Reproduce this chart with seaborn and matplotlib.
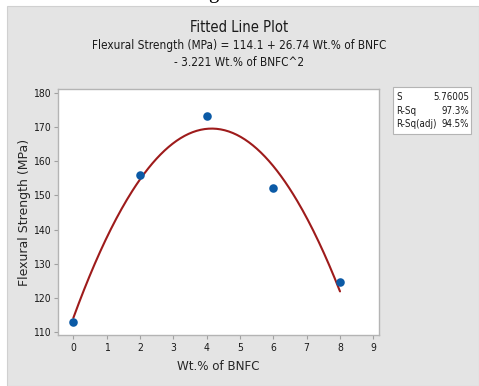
import numpy as np
import pandas as pd
import matplotlib
matplotlib.use("Agg")
import matplotlib.pyplot as plt
from matplotlib.patches import Rectangle
import seaborn as sns

# Observed flexural strength at each BNFC loading
wt_pct = [0, 2, 4, 6, 8]
strength = [112.8, 156.1, 173.3, 152.2, 124.5]

# Quadratic regression coefficients and summary statistics
coef_b0, coef_b1, coef_b2 = 114.1, 26.74, -3.221
stat_names = ["S", "R-Sq", "R-Sq(adj)"]
stat_values = ["5.76005", "97.3%", "94.5%"]

x_ticks = list(range(0, 10))
y_ticks = list(range(110, 181, 10))

sns.set_theme(style="white")
plt.rcParams["font.family"] = ["DejaVu Sans"]
plt.rcParams["font.stretch"] = "condensed"
plt.rcParams["text.color"] = "#1a1a1a"

fig = plt.figure(figsize=(4.79, 3.86), dpi=100)
fig.patch.set_facecolor("white")
fig.patches.append(Rectangle((7 / 479, 0), 1 - 7 / 479, 1 - 6 / 386,
                             transform=fig.transFigure, facecolor="#e4e4e4",
                             edgecolor="#d0d0d0", linewidth=0.8, zorder=-10))
# Fragment of the caption above the panel
fig.text(213 / 479, 1 + 2 / 386, "g", fontsize=15, family="Liberation Serif",
         ha="center", va="baseline", color="black")

ax = fig.add_axes([58 / 479, 51 / 386, 321 / 479, 246 / 386])
ax.set_facecolor("white")

fit_df = pd.DataFrame({"x": np.linspace(0, 8, 200)})
fit_df["y"] = coef_b0 + coef_b1 * fit_df["x"] + coef_b2 * fit_df["x"] ** 2
sns.lineplot(data=fit_df, x="x", y="y", ax=ax, color="#9e1b1b", linewidth=1.5)

pts = pd.DataFrame({"x": wt_pct, "y": strength})
sns.scatterplot(data=pts, x="x", y="y", ax=ax, color="#0b5aa6", s=38,
                edgecolor="#0b5aa6", linewidth=0, zorder=3)

ax.set_xlim(-0.46, 9.17)
ax.set_ylim(109.1, 181.2)
ax.set_xticks(x_ticks)
ax.set_yticks(y_ticks)
ax.tick_params(axis="both", which="major", length=3, width=0.8, color="#a0a0a0",
               labelsize=7.5, pad=2.5, direction="out", bottom=True, left=True,
               labelcolor="#1a1a1a")
for sp in ax.spines.values():
    sp.set_color("#b4b4b4")
    sp.set_linewidth(1.0)
ax.set_xlabel("Wt.% of BNFC", fontsize=9.5, labelpad=5)
ax.set_ylabel("Flexural Strength (MPa)", fontsize=9, labelpad=1,
              fontstretch="normal")

fig.text(0.5, 1 - 28 / 386, "Fitted Line Plot", fontsize=10.5, ha="center", va="center")
fig.text(0.5, 1 - 46 / 386, "Flexural Strength (MPa) = 114.1 + 26.74 Wt.% of BNFC",
         fontsize=8.5, ha="center", va="center")
fig.text(0.5, 1 - 62 / 386, "- 3.221 Wt.% of BNFC^2", fontsize=8.5,
         ha="center", va="center")

# Regression summary box
fig.patches.append(Rectangle((393 / 479, 1 - 134 / 386), 78 / 479, 47 / 386,
                             transform=fig.transFigure, facecolor="white",
                             edgecolor="#b4b4b4", linewidth=0.8, zorder=1))
for i, (nm, val) in enumerate(zip(stat_names, stat_values)):
    yy = 1 - (97 + i * 13.5) / 386
    fig.text(396 / 479, yy, nm, fontsize=7, ha="left", va="center")
    fig.text(469 / 479, yy, val, fontsize=7, ha="right", va="center")

fig.savefig("out.png", dpi=100, facecolor=fig.get_facecolor())
